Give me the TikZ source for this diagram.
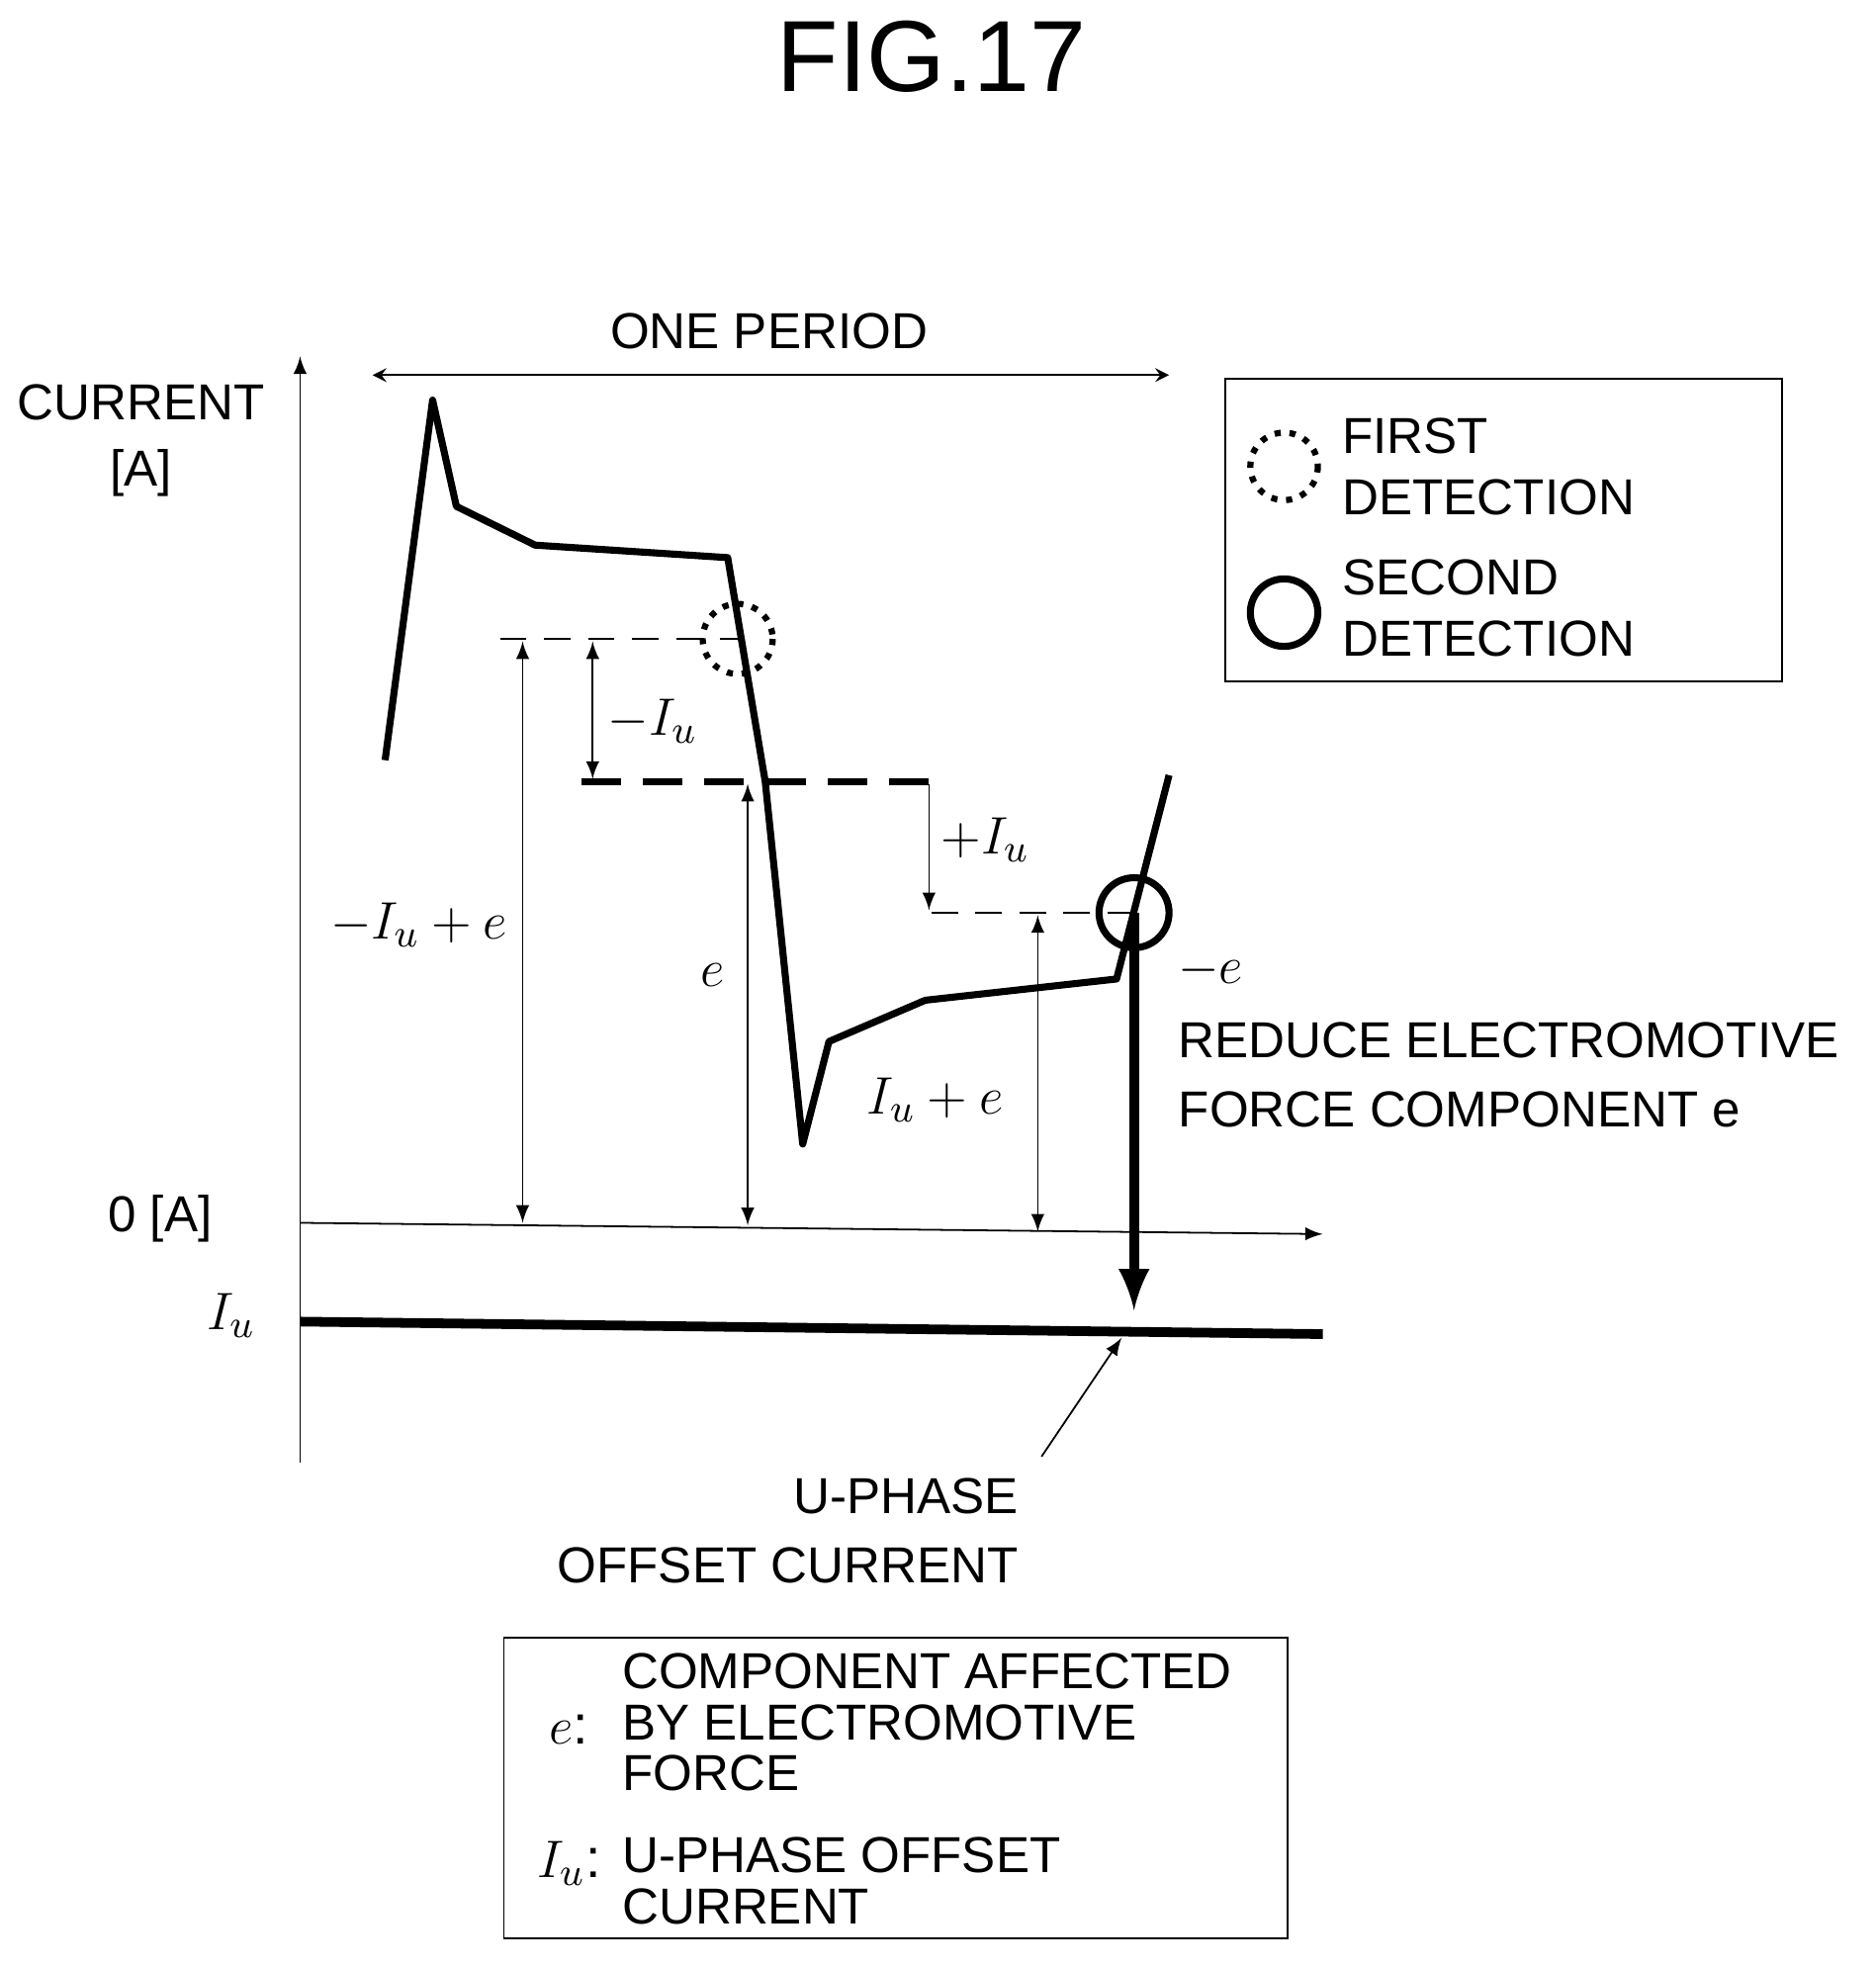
\documentclass[tikz,border=0pt]{standalone}
\usepackage{fontspec}
\setmainfont{Liberation Sans}
\usetikzlibrary{positioning}
\tikzset{
  lbl/.style={font=\fontsize{11.5}{13}\selectfont, inner sep=0pt},
  mlbl/.style={font=\fontsize{12.5}{14}\selectfont, inner sep=0pt},
  dim/.style={thin, <->, >=latex},
  curve/.style={line width=1.6pt, line join=round},
  dsh/.style={thin, dash pattern=on 6pt off 4pt},
}
\begin{document}
\begin{tikzpicture}[x=0.01cm, y=-0.01cm]
  \useasboundingbox (0,0) rectangle (1500,1574);
  \node[font=\fontsize{23}{25}\selectfont] (title) at (745,45) {FIG.17};

  % axes
  \coordinate (yb) at (240,1170); \coordinate (yt) at (240,285);
  \draw[thin, ->, >=latex] (yb) -- (yt);
  \coordinate (xl) at (240,978); \coordinate (xr) at (1058,987);
  \draw[thin, ->, >=latex] (xl) -- (xr);
  \coordinate (ol) at (240,1057); \coordinate (or) at (1058,1067);
  \draw[line width=2.2pt] (ol) -- (or);
  \node[lbl] (cur) at (113,322) {CURRENT};
  \node[lbl] (amp) at (113,378) {[A]};
  \node[lbl] (zero) at (128,975) {0 [A]};
  \node[mlbl] (iu) at (185,1052) {$I_u$};

  % one period
  \node[lbl] (per) at (615,265) {ONE PERIOD};
  \coordinate (pl) at (298,300); \coordinate (pr) at (935,300);
  \draw[thin, <->, >=stealth] (pl) -- (pr);

  % current waveform
  \draw[curve] (308,608) -- (346,320) -- (365,405) -- (428,436) -- (582,446)
    -- (612,625) -- (642,915) -- (663,833) -- (740,800) -- (893,783) -- (935,620);

  % levels
  \draw[dsh] (400,511) -- (590,511);
  \draw[line width=1.6pt, dash pattern=on 9pt off 5pt] (465,625) -- (750,625);
  \draw[dsh] (745,730) -- (905,730);
  \draw[line width=1.4pt, dotted] (590,511) circle (28);
  \draw[line width=1.6pt] (907,730) circle (28);

  % dimensions
  \draw[dim] (418,513) -- (418,978);
  \node[mlbl] (d1) at (335,740) {$-I_u+e$};
  \draw[dim] (474,513) -- (474,623);
  \node[mlbl] (d2) at (522,577) {$-I_u$};
  \draw[dim] (598,627) -- (598,980);
  \node[mlbl] (d3) at (570,780) {$e$};
  \draw[thin, ->, >=latex] (743,627) -- (743,728);
  \node[mlbl] (d4) at (788,672) {$+I_u$};
  \draw[dim] (830,732) -- (830,985);
  \node[mlbl] (d5) at (748,880) {$I_u+e$};

  % offset
  \draw[line width=2.2pt, ->, >=latex] (907,730) -- (907,1048);
  \node[mlbl] (me) at (968,776) {$-e$};
  \node[lbl, anchor=west] (red1) at (942,832) {REDUCE ELECTROMOTIVE};
  \node[lbl, anchor=west] (red2) at (942,887) {FORCE COMPONENT e};
  \coordinate (pt) at (833,1165); \coordinate (ph) at (897,1070);
  \draw[thin, ->, >=latex] (pt) -- (ph);
  \node[lbl, anchor=east] (up1) at (815,1197) {U-PHASE};
  \node[lbl, anchor=east] (up2) at (815,1252) {OFFSET CURRENT};

  % legend
  \draw[thin] (980,303) rectangle (1425,545);
  \draw[line width=1.4pt, dotted] (1027,373) circle (27);
  \node[lbl, anchor=west] (f1) at (1073,349) {FIRST};
  \node[lbl, anchor=west] (f2) at (1073,398) {DETECTION};
  \draw[line width=1.6pt] (1027,490) circle (27);
  \node[lbl, anchor=west] (s1) at (1073,462) {SECOND};
  \node[lbl, anchor=west] (s2) at (1073,511) {DETECTION};

  % notes
  \draw[thin] (403,1310) rectangle (1030,1550);
  \node[mlbl] (ne) at (455,1383) {$e$:};
  \node[lbl, anchor=west] (n1) at (497,1337) {COMPONENT AFFECTED};
  \node[lbl, anchor=west] (n2) at (497,1378) {BY ELECTROMOTIVE};
  \node[lbl, anchor=west] (n3) at (497,1418) {FORCE};
  \node[mlbl] (ni) at (455,1490) {$I_u$:};
  \node[lbl, anchor=west] (n4) at (497,1484) {U-PHASE OFFSET};
  \node[lbl, anchor=west] (n5) at (497,1525) {CURRENT};
\end{tikzpicture}
\end{document}
